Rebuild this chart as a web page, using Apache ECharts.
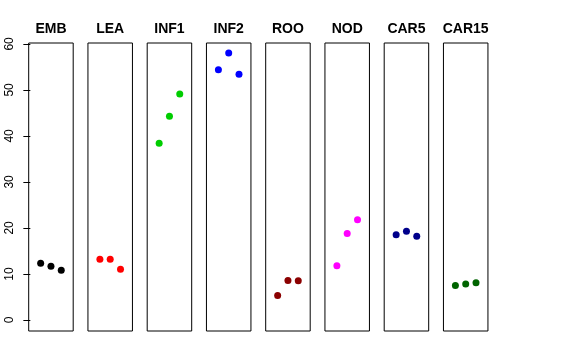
<!DOCTYPE html>
<html><head><meta charset="utf-8">
<script src="https://cdn.jsdelivr.net/npm/echarts@6/dist/echarts.min.js"></script>
<style>html,body{margin:0;padding:0;background:#fff}#c{width:576px;height:360px}</style>
</head><body><div id="c"></div>
<script>
var panels = ['EMB','LEA','INF1','INF2','ROO','NOD','CAR5','CAR15'];
var colors = ['#000000','#FF0000','#00CD00','#0000FF','#8B0000','#FF00FF','#00008B','#006400'];
var xPositions = [1, 2, 3];
var EMB = [12.3, 11.7, 10.8];
var LEA = [13.2, 13.2, 11.0];
var INF1 = [38.4, 44.3, 49.1];
var INF2 = [54.4, 58.0, 53.4];
var ROO = [5.3, 8.6, 8.5];
var NOD = [11.8, 18.8, 21.8];
var CAR5 = [18.5, 19.3, 18.2];
var CAR15 = [7.5, 7.8, 8.1];
var values = [EMB, LEA, INF1, INF2, ROO, NOD, CAR5, CAR15];
var yTicks = [0, 10, 20, 30, 40, 50, 60];

var chart = echarts.init(document.getElementById('c'), null, {renderer:'canvas'});
var grids = [], xAxes = [], yAxes = [], series = [], titles = [];
var L0 = 28.7, step = 59.25, W = 44.5, T = 43, H = 288;
panels.forEach(function(name, i){
  var left = L0 + i*step;
  grids.push({left:left, top:T, width:W, height:H, show:true, borderColor:'#000', borderWidth:1, backgroundColor:'transparent'});
  xAxes.push({type:'value', gridIndex:i, min:-0.16, max:4.16, show:false});
  yAxes.push({type:'value', gridIndex:i, min:-2.4, max:60.2, show: i===0,
    axisLine:{show:false}, splitLine:{show:false},
    axisTick:{show:true, inside:false, length:7, customValues:yTicks, lineStyle:{color:'#000'}},
    axisLabel:{show:true, customValues:yTicks, rotate:90, margin:13, fontSize:12, color:'#000', fontFamily:'Liberation Sans'}
  });
  titles.push({text:name, left:left + W/2, top:22, padding:0, textAlign:'center',
    textStyle:{fontFamily:'Liberation Sans', fontWeight:'bold', fontSize:14, color:'#000'}});
  series.push({type:'scatter', xAxisIndex:i, yAxisIndex:i, symbol:'circle', symbolSize:7,
    itemStyle:{color:colors[i], opacity:1}, silent:true,
    data: xPositions.map(function(x,j){return [x, values[i][j]];})});
});
chart.setOption({animation:false, title:titles, grid:grids, xAxis:xAxes, yAxis:yAxes, series:series});
</script></body></html>
